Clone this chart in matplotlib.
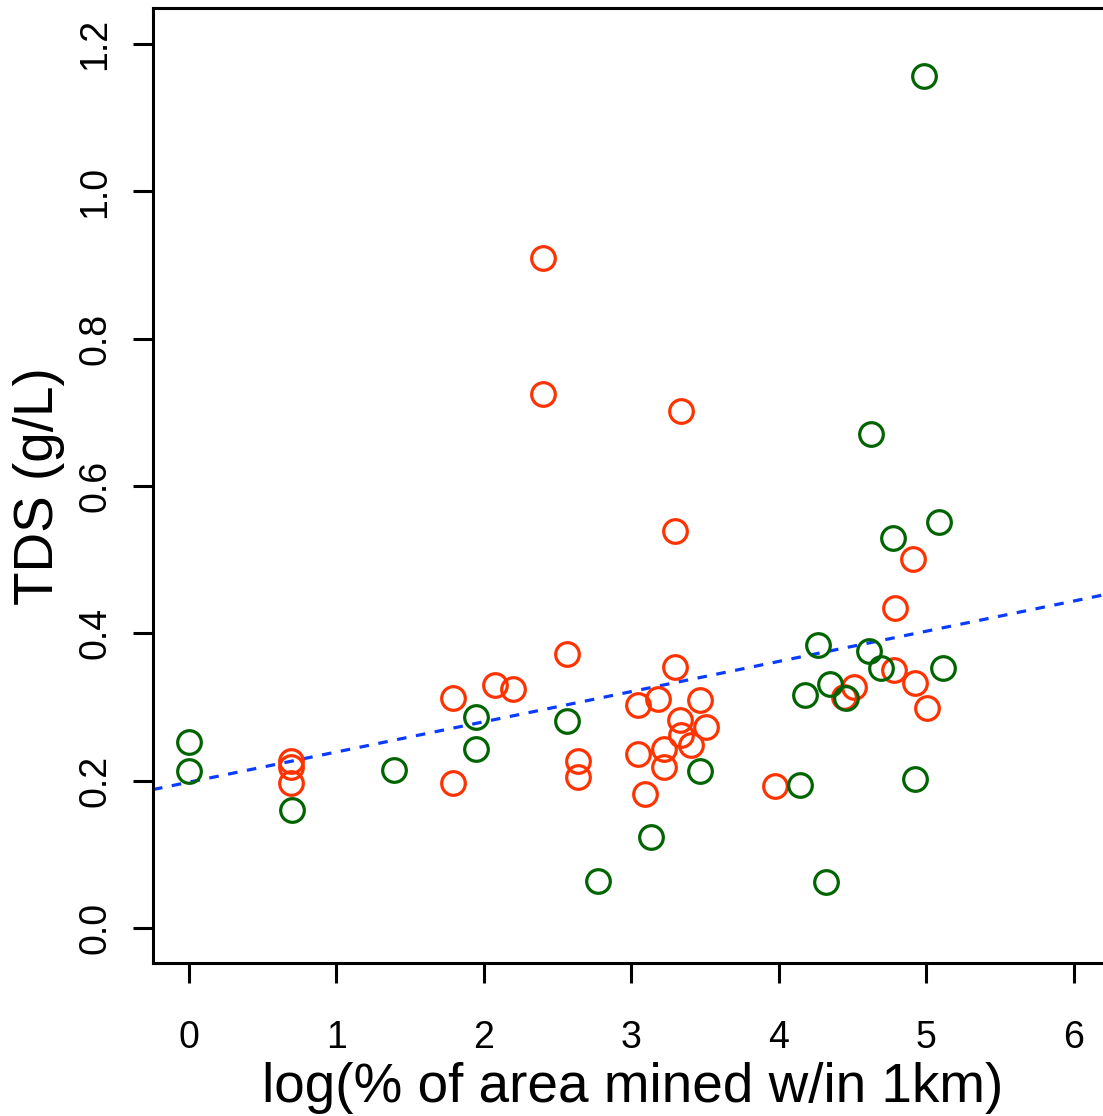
import numpy as np
import matplotlib
matplotlib.use('Agg')
import matplotlib.pyplot as plt

plt.rcParams['font.family'] = ['Liberation Sans', 'DejaVu Sans']

# points: log(% area mined) vs TDS (g/L)
red_x = [0.693, 0.693, 0.693, 1.792, 1.792, 2.075, 2.199, 2.400, 2.400, 2.565,
         2.640, 2.640, 3.046, 3.046, 3.092, 3.178, 3.218, 3.223, 3.295, 3.297,
         3.329, 3.333, 3.336, 3.403, 3.464, 3.503, 3.973, 4.443, 4.511, 4.780,
         4.789, 4.908, 4.922, 5.006]
red_y = [0.227, 0.219, 0.197, 0.312, 0.197, 0.330, 0.3245, 0.910, 0.7246, 0.3716,
         0.2267, 0.205, 0.303, 0.236, 0.182, 0.311, 0.219, 0.2426, 0.355, 0.5395,
         0.2824, 0.7016, 0.262, 0.249, 0.3096, 0.273, 0.193, 0.313, 0.3277, 0.350,
         0.4345, 0.501, 0.333, 0.299]

green_x = [0.000, 0.000, 0.696, 1.390, 1.946, 1.946, 2.565, 2.775, 3.134, 3.464,
           4.142, 4.176, 4.262, 4.320, 4.346, 4.452, 4.612, 4.624, 4.692, 4.773,
           4.922, 4.983, 5.085, 5.114]
green_y = [0.2525, 0.213, 0.160, 0.214, 0.286, 0.2435, 0.281, 0.064, 0.123, 0.2136,
           0.194, 0.316, 0.384, 0.062, 0.331, 0.312, 0.3766, 0.671, 0.3535, 0.5295,
           0.202, 1.157, 0.551, 0.3535]

# fitted line
fit_intercept = 0.198
fit_slope = 0.041

fig = plt.figure(figsize=(11.03, 11.16), dpi=100)
ax = fig.add_axes([0.1387, 0.1371, 0.8613, 0.8557])

ax.plot(red_x, red_y, 'o', ms=17, mfc='none', mec='#ff3300', mew=2.3, zorder=3)
ax.plot(green_x, green_y, 'o', ms=17, mfc='none', mec='#006400', mew=2.3, zorder=4)

ax.axline((0, fit_intercept), slope=fit_slope, color='#0a3cff', lw=2.3,
          dashes=(3, 3), zorder=2)

ax.set_xlim(-0.244, 6.197)
ax.set_ylim(-0.0475, 1.249)

ax.set_xticks([0, 1, 2, 3, 4, 5, 6])
ax.set_yticks([0.0, 0.2, 0.4, 0.6, 0.8, 1.0, 1.2])
ax.set_yticklabels(['0.0', '0.2', '0.4', '0.6', '0.8', '1.0', '1.2'],
                   rotation=90, va='center')

ax.tick_params(axis='both', direction='out', length=14.4, width=2.2,
               labelsize=27)
ax.tick_params(axis='x', pad=27)
ax.tick_params(axis='y', pad=14)

for side in ['left', 'top', 'bottom']:
    ax.spines[side].set_linewidth(2.2)
ax.spines['right'].set_visible(False)

ax.set_xlabel('log(% of area mined w/in 1km)', fontsize=39.5)
ax.set_ylabel('TDS (g/L)', fontsize=39.5)
ax.xaxis.set_label_coords(0.5047, -0.104)
ax.yaxis.set_label_coords(-0.093, 0.499)

fig.savefig('out.png', dpi=100)
